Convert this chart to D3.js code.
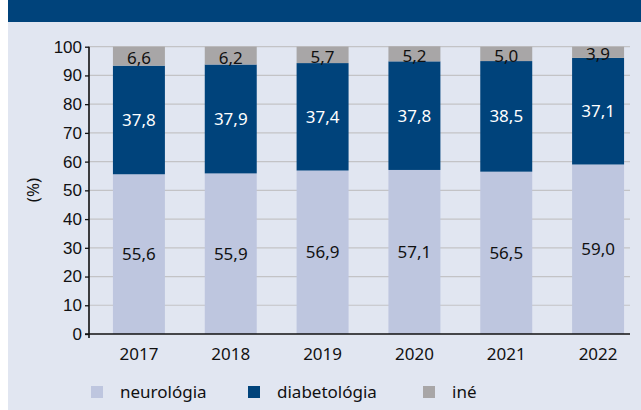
<!DOCTYPE html>
<html>
<head>
<meta charset="utf-8">
<script src="https://cdn.jsdelivr.net/npm/d3@7"></script>
<style>
  body { margin: 0; background: #fff; }
  svg { display: block; font-family: "Noto Sans", "Open Sans", sans-serif; }
</style>
</head>
<body>
<div id="chart"></div>
<script>
// data
const years = ["2017", "2018", "2019", "2020", "2021", "2022"];
const neurologia = [55.6, 55.9, 56.9, 57.1, 56.5, 59.0];
const diabetologia = [37.8, 37.9, 37.4, 37.8, 38.5, 37.1];
const ine = [6.6, 6.2, 5.7, 5.2, 5.0, 3.9];
const seriesNames = ["neurológia", "diabetológia", "iné"];
const yTicks = [0, 10, 20, 30, 40, 50, 60, 70, 80, 90, 100];

const width = 641, height = 410;
const colors = ["#bec6df", "#00437b", "#a8a6a7"];
const textColors = ["#111", "#fff", "#111"];
const fs = "17px";

const rows = years.map((y, i) => ({ year: y, neurologia: neurologia[i], diabetologia: diabetologia[i], ine: ine[i] }));
const keys = ["neurologia", "diabetologia", "ine"];
const stacked = d3.stack().keys(keys)(rows);

const svg = d3.select("#chart").append("svg")
    .attr("width", width)
    .attr("height", height);

// background + header band
svg.append("rect").attr("x", 8).attr("y", 0).attr("width", width - 8).attr("height", height).attr("fill", "#e1e6f1");
svg.append("rect").attr("x", 8).attr("y", 0).attr("width", width - 8).attr("height", 22).attr("fill", "#00437b");

const axisX = 89, axisRight = 630;
const y = d3.scaleLinear().domain([0, 100]).range([334, 46.7]);
const x = d3.scaleBand().domain(years).range([93, 644]).paddingInner(0.434).paddingOuter(0.217);

// gridlines
svg.append("g")
    .selectAll("line")
    .data(yTicks.filter(t => t > 0))
    .enter()
    .append("line")
    .attr("x1", axisX).attr("x2", axisRight)
    .attr("y1", d => y(d)).attr("y2", d => y(d))
    .attr("stroke", "#c3c3c6")
    .attr("stroke-width", 1.2);

// bars
const layers = svg.append("g")
    .selectAll("g")
    .data(stacked)
    .enter()
    .append("g")
    .attr("fill", (d, i) => colors[i]);

layers.selectAll("rect")
    .data(d => d)
    .enter()
    .append("rect")
    .attr("x", d => x(d.data.year))
    .attr("y", d => y(d[1]))
    .attr("width", x.bandwidth())
    .attr("height", d => y(d[0]) - y(d[1]));

// value labels
stacked.forEach((layer, li) => {
    svg.append("g")
        .selectAll("text")
        .data(layer)
        .enter()
        .append("text")
        .attr("x", d => x(d.data.year) + x.bandwidth() / 2)
        .attr("y", d => y((d[0] + d[1]) / 2) + (li === 2 ? 2 : 0))
        .attr("dy", "0.36em")
        .attr("text-anchor", "middle")
        .attr("fill", textColors[li])
        .style("font-size", fs)
        .text(d => d3.format(".1f")(d[1] - d[0]).replace(".", ","));
});

// y axis
const yAxis = svg.append("g")
    .attr("transform", `translate(${axisX},0)`)
    .call(d3.axisLeft(y).tickValues(yTicks).tickSize(4).tickPadding(3));
yAxis.select(".domain").remove();
yAxis.selectAll(".tick line").attr("stroke", "#111").attr("stroke-width", 1.3);
yAxis.selectAll("text").style("font-size", fs).attr("fill", "#111").attr("font-family", "inherit");
svg.append("line")
    .attr("x1", axisX).attr("x2", axisX)
    .attr("y1", y(100)).attr("y2", y(0) + 4)
    .attr("stroke", "#111").attr("stroke-width", 1.6);

// x axis
svg.append("line")
    .attr("x1", axisX - 4).attr("x2", axisRight)
    .attr("y1", y(0)).attr("y2", y(0))
    .attr("stroke", "#111").attr("stroke-width", 1.6);
svg.append("g")
    .selectAll("text")
    .data(years)
    .enter()
    .append("text")
    .attr("x", d => x(d) + x.bandwidth() / 2)
    .attr("y", 360)
    .attr("text-anchor", "middle")
    .attr("fill", "#111")
    .style("font-size", fs)
    .text(d => d);

// y label
svg.append("text")
    .attr("transform", `translate(39,190) rotate(-90)`)
    .attr("text-anchor", "middle")
    .attr("fill", "#111")
    .style("font-size", fs)
    .text("(%)");

// legend
const legendX = [91, 248, 423];
const legend = svg.append("g")
    .selectAll("g")
    .data(seriesNames)
    .enter()
    .append("g")
    .attr("transform", (d, i) => `translate(${legendX[i]},386)`);
legend.append("rect")
    .attr("width", 12).attr("height", 12)
    .attr("fill", (d, i) => colors[i]);
legend.append("text")
    .attr("x", 29).attr("y", 6)
    .attr("dy", "0.36em")
    .attr("fill", "#111")
    .style("font-size", fs)
    .text(d => d);
</script>
</body>
</html>
